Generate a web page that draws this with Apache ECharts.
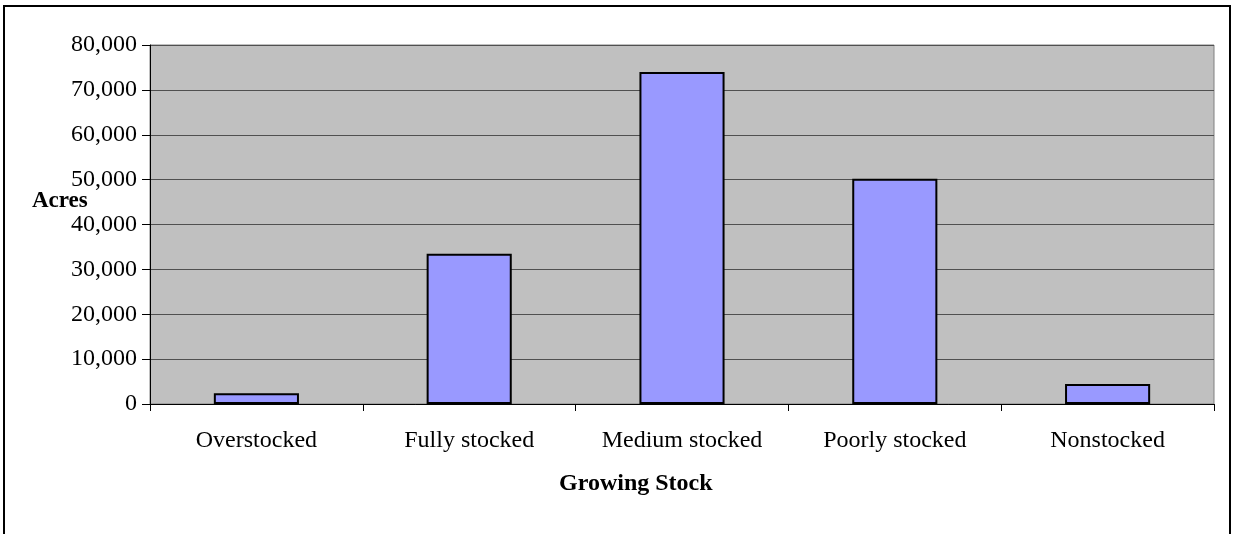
<!DOCTYPE html>
<html>
<head>
<meta charset="utf-8">
<script src="https://cdn.jsdelivr.net/npm/echarts@6/dist/echarts.min.js"></script>
<style>
  html, body { margin: 0; padding: 0; background: #fff; }
  #chart { width: 1233px; height: 534px; }
</style>
</head>
<body>
<div id="chart"></div>
<script>
const categories = ['Overstocked', 'Fully stocked', 'Medium stocked', 'Poorly stocked', 'Nonstocked']
const acres = [2400, 33500, 74000, 50200, 4450]

const serif = '"Liberation Serif", "Times New Roman", serif'

const chart = echarts.init(document.getElementById('chart'))

chart.setOption({
  animation: false,
  backgroundColor: '#fff',
  grid: {
    left: 150,
    right: 19,
    top: 45,
    bottom: 130,
    show: true,
    backgroundColor: '#c0c0c0',
    borderWidth: 1,
    borderColor: '#808080'
  },
  graphic: [
    {
      type: 'rect',
      shape: { x: 4, y: 6, width: 1226, height: 540 },
      style: { fill: 'none', stroke: '#000', lineWidth: 2 }
    },
    {
      type: 'text',
      left: 32,
      top: 190,
      style: { text: 'Acres', font: 'bold 23px ' + serif, fill: '#000' }
    },
    {
      // axis title sits left of centre in the original
      type: 'text',
      left: 559,
      top: 472,
      style: { text: 'Growing Stock', font: 'bold 24px ' + serif, fill: '#000' }
    }
  ],
  xAxis: {
    type: 'category',
    data: categories,
    axisLine: { lineStyle: { color: '#000', width: 1 } },
    axisTick: { show: true, length: 7, lineStyle: { color: '#000' } },
    axisLabel: { margin: 25, fontFamily: serif, fontSize: 24, color: '#000' }
  },
  yAxis: {
    type: 'value',
    min: 0,
    max: 80000,
    interval: 10000,
    axisLine: { show: true, lineStyle: { color: '#000', width: 1 } },
    axisTick: { show: true, length: 8, lineStyle: { color: '#000' } },
    splitLine: { lineStyle: { color: '#505050', width: 1 } },
    axisLabel: {
      margin: 13,
      fontFamily: serif,
      fontSize: 24,
      color: '#000',
      formatter: v => v.toLocaleString('en-US')
    }
  },
  series: [{
    type: 'bar',
    data: acres,
    barWidth: '40%',
    itemStyle: { color: '#9999ff', borderColor: '#000', borderWidth: 2 }
  }]
})
</script>
</body>
</html>
